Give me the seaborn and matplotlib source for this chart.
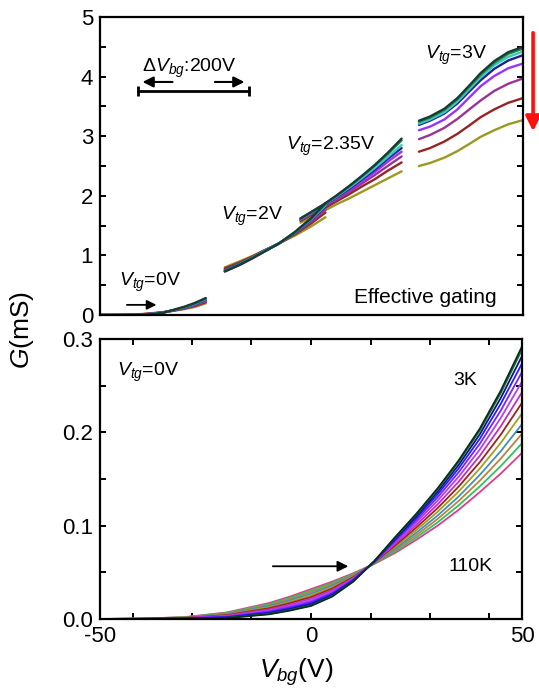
import matplotlib
matplotlib.use("Agg")
import matplotlib.pyplot as plt
import pandas as pd
import seaborn as sns

# ---------------- data ----------------
# top panel: curve names / colours (low T -> high T)
top_names = ["T1", "T2", "T3", "T4", "T5", "T6", "T7", "T8"]
top_colors = ["#1a3a3a", "#1f8f3f", "#33cccc", "#1f1f8f", "#9933ff", "#993399", "#992222", "#999922"]

# segment Vtg = 0 V
seg1_vbg = [-50, -47.5, -45, -42.5, -40, -37.5, -35, -32.5, -30, -27.5, -25]
seg1_g = [
    [0, 0, 0.000, 0.001, 0.005, 0.014, 0.040, 0.088, 0.140, 0.204, 0.285],
    [0, 0, 0.001, 0.002, 0.006, 0.016, 0.041, 0.086, 0.136, 0.197, 0.275],
    [0, 0, 0.001, 0.002, 0.007, 0.018, 0.042, 0.084, 0.132, 0.190, 0.265],
    [0, 0, 0.001, 0.003, 0.008, 0.020, 0.043, 0.082, 0.127, 0.182, 0.255],
    [0, 0, 0.001, 0.003, 0.009, 0.022, 0.044, 0.080, 0.122, 0.174, 0.245],
    [0, 0, 0.001, 0.004, 0.011, 0.025, 0.045, 0.078, 0.116, 0.165, 0.232],
    [0, 0, 0.002, 0.005, 0.013, 0.028, 0.047, 0.075, 0.109, 0.153, 0.215],
    [0, 0.001, 0.002, 0.007, 0.017, 0.032, 0.049, 0.071, 0.100, 0.136, 0.195],
]
# segment Vtg = 2 V
seg2_vbg = [-20.5, -17, -14, -11, -7.7, -4, 0, 3.3]
seg2_g = [
    [0.73, 0.84, 0.95, 1.07, 1.20, 1.39, 1.63, 1.88],
    [0.74, 0.85, 0.96, 1.07, 1.20, 1.38, 1.62, 1.86],
    [0.74, 0.85, 0.96, 1.08, 1.20, 1.38, 1.61, 1.84],
    [0.75, 0.86, 0.96, 1.08, 1.20, 1.37, 1.60, 1.82],
    [0.73, 0.84, 0.95, 1.07, 1.20, 1.37, 1.59, 1.80],
    [0.76, 0.87, 0.97, 1.08, 1.20, 1.36, 1.57, 1.77],
    [0.78, 0.88, 0.98, 1.09, 1.20, 1.35, 1.54, 1.72],
    [0.80, 0.90, 0.99, 1.09, 1.20, 1.33, 1.49, 1.64],
]
# segment Vtg = 2.35 V
seg3_vbg = [-2.6, 0, 3, 6, 9, 12, 15, 18, 21.3]
seg3_g = [
    [1.62, 1.73, 1.86, 2.01, 2.17, 2.34, 2.52, 2.72, 2.96],
    [1.62, 1.73, 1.86, 2.00, 2.16, 2.33, 2.51, 2.70, 2.93],
    [1.61, 1.72, 1.85, 1.99, 2.14, 2.30, 2.47, 2.65, 2.85],
    [1.61, 1.72, 1.84, 1.98, 2.12, 2.28, 2.44, 2.62, 2.80],
    [1.60, 1.71, 1.83, 1.96, 2.10, 2.25, 2.40, 2.57, 2.74],
    [1.60, 1.70, 1.82, 1.94, 2.07, 2.21, 2.35, 2.50, 2.66],
    [1.58, 1.68, 1.79, 1.91, 2.03, 2.16, 2.28, 2.42, 2.56],
    [1.55, 1.64, 1.75, 1.86, 1.96, 2.07, 2.18, 2.29, 2.41],
]
# segment Vtg = 3 V
seg4_vbg = [25.4, 28, 31.4, 34.5, 37.3, 40, 43.2, 46.5, 50]
seg4_g = [
    [3.26, 3.33, 3.46, 3.64, 3.85, 4.06, 4.26, 4.41, 4.50],
    [3.24, 3.31, 3.44, 3.62, 3.83, 4.03, 4.23, 4.38, 4.47],
    [3.21, 3.28, 3.40, 3.58, 3.79, 3.99, 4.19, 4.33, 4.42],
    [3.19, 3.26, 3.38, 3.55, 3.75, 3.94, 4.13, 4.27, 4.36],
    [3.10, 3.16, 3.28, 3.45, 3.65, 3.84, 4.01, 4.14, 4.22],
    [2.95, 3.02, 3.14, 3.29, 3.45, 3.60, 3.76, 3.88, 3.97],
    [2.74, 2.80, 2.91, 3.04, 3.18, 3.32, 3.45, 3.56, 3.64],
    [2.50, 2.55, 2.64, 2.75, 2.87, 2.99, 3.10, 3.20, 3.27],
]

# bottom panel: Vtg = 0 V, temperatures 3 K ... 110 K
bot_names = ["3K", "T2", "T3", "T4", "T5", "T6", "T7", "T8", "T9", "T10", "T11", "T12", "110K"]
bot_colors = ["#0a2a2a", "#1a7a2a", "#101080", "#2020ff", "#8020ff", "#b040f0", "#c030c0",
              "#a02020", "#a0a020", "#4090c0", "#c08040", "#30c060", "#e03c8c"]
bot_vbg = [-50, -40, -30, -20, -10, -5, 0, 5, 10, 15, 20, 25, 30, 35, 40, 45, 50]
bot_g = [
    [0, 0, .0003, .0010, .0050, .0090, .0140, .0240, .0400, .0620, .0880, .1130, .1400, .1700, .2040, .2450, .2920],
    [0, 0, .0004, .0012, .0054, .0095, .0145, .0245, .0403, .0619, .0875, .1122, .1388, .1684, .2020, .2423, .2886],
    [0, .0001, .0005, .0015, .0061, .0104, .0156, .0254, .0408, .0617, .0865, .1105, .1364, .1652, .1979, .2370, .2817],
    [0, .0001, .0006, .0020, .0069, .0114, .0169, .0266, .0414, .0615, .0853, .1085, .1336, .1615, .1931, .2308, .2738],
    [0, .0001, .0007, .0024, .0079, .0126, .0183, .0278, .0422, .0613, .0839, .1063, .1304, .1573, .1877, .2236, .2646],
    [0, .0002, .0009, .0030, .0090, .0140, .0199, .0293, .0430, .0610, .0824, .1038, .1268, .1525, .1816, .2156, .2544],
    [0, .0002, .0010, .0036, .0102, .0155, .0217, .0309, .0439, .0607, .0807, .1010, .1228, .1472, .1748, .2067, .2430],
    [0, .0003, .0012, .0042, .0114, .0170, .0235, .0325, .0448, .0604, .0790, .0982, .1188, .1419, .1680, .1978, .2316],
    [0, .0003, .0014, .0048, .0126, .0185, .0253, .0341, .0457, .0601, .0773, .0954, .1148, .1366, .1612, .1889, .2202],
    [0, .0004, .0015, .0054, .0138, .0200, .0271, .0357, .0466, .0598, .0756, .0926, .1108, .1313, .1544, .1800, .2088],
    [0, .0004, .0017, .0059, .0148, .0213, .0288, .0371, .0474, .0595, .0741, .0900, .1072, .1265, .1482, .1720, .1985],
    [0, .0005, .0018, .0065, .0159, .0227, .0304, .0386, .0482, .0593, .0725, .0875, .1036, .1218, .1421, .1640, .1883],
    [0, .0005, .0020, .0070, .0170, .0240, .0320, .0400, .0490, .0590, .0710, .0850, .1000, .1170, .1360, .1560, .1780],
]

x_ticklabels = ["-50", "0", "50"]

# ---------------- style ----------------
sns.set_style("ticks")
plt.rcParams["font.family"] = ["Liberation Sans", "DejaVu Sans"]
plt.rcParams["mathtext.fontset"] = "custom"
plt.rcParams["mathtext.rm"] = "Liberation Sans"
plt.rcParams["mathtext.it"] = "Liberation Sans:italic"
plt.rcParams["mathtext.bf"] = "Liberation Sans:bold"
for key in ["text.color", "axes.labelcolor", "xtick.color", "ytick.color", "axes.edgecolor"]:
    plt.rcParams[key] = "black"

fig = plt.figure(figsize=(5.39, 6.98), dpi=100)
ax1 = fig.add_axes([0.18553, 0.54871, 0.78479, 0.42693])
ax2 = fig.add_axes([0.18553, 0.11318, 0.78293, 0.40115])

# ---------------- top panel ----------------
rows = []
for seg, xs, curves in [("s1", seg1_vbg, seg1_g), ("s2", seg2_vbg, seg2_g),
                        ("s3", seg3_vbg, seg3_g), ("s4", seg4_vbg, seg4_g)]:
    for name, ys in zip(top_names, curves):
        for x, y in zip(xs, ys):
            rows.append((seg, name, x, y))
top_df = pd.DataFrame(rows, columns=["seg", "curve", "Vbg", "G"])
sns.lineplot(data=top_df, x="Vbg", y="G", hue="curve", units="seg", estimator=None,
             sort=False, hue_order=top_names[::-1],
             palette=dict(zip(top_names, top_colors)), legend=False, lw=1.7, ax=ax1)

# ---------------- bottom panel ----------------
rows = []
for name, ys in zip(bot_names, bot_g):
    for x, y in zip(bot_vbg, ys):
        rows.append((name, x, y))
bot_df = pd.DataFrame(rows, columns=["curve", "Vbg", "G"])
sns.lineplot(data=bot_df, x="Vbg", y="G", hue="curve", estimator=None, sort=False,
             hue_order=bot_names[::-1], palette=dict(zip(bot_names, bot_colors)),
             legend=False, lw=1.3, ax=ax2)

# ---------------- axes styling ----------------
minor_x = [-42.2, -28.1, -14.1, 14.1, 28.1, 42.2]
for ax in (ax1, ax2):
    ax.set_xlim(-50, 50)
    ax.set_xlabel("")
    ax.set_ylabel("")
    for sp in ax.spines.values():
        sp.set_visible(True)
        sp.set_linewidth(1.6)
        sp.set_color("black")

ax1.set_ylim(0, 5)
ax1.set_yticks([0, 1, 2, 3, 4, 5])
ax1.set_yticks([0.5, 1.5, 2.5, 3.5, 4.5], minor=True)
ax1.set_xticks([])
ax1.tick_params(axis="y", which="both", direction="in", left=True, right=True,
                length=4.5, width=1.4, labelsize=16, pad=5, colors="black")

ax2.set_ylim(0, 0.3)
ax2.set_yticks([0.0, 0.1, 0.2, 0.3])
ax2.set_yticklabels(["0.0", "0.1", "0.2", "0.3"])
ax2.set_yticks([0.05, 0.15, 0.25], minor=True)
ax2.set_xticks([-50, 0, 50])
ax2.set_xticklabels(x_ticklabels)
ax2.set_xticks(minor_x, minor=True)
ax2.tick_params(axis="both", which="both", direction="in", left=True, right=True,
                top=True, bottom=True, length=4.5, width=1.4, labelsize=16, pad=5,
                colors="black")

# ---------------- annotations: top ----------------
fs = 14
ax1.text(-29, 4.13, r"$\Delta V_{bg}$:200V", fontsize=fs, ha="center", va="center")
ax1.plot([-41, -14.7], [3.76, 3.76], color="black", lw=2, marker="|", ms=7, mew=2)
ax1.annotate("", xy=(-40.6, 3.91), xytext=(-32.2, 3.91),
             arrowprops=dict(arrowstyle="-|>", color="black", lw=1.5, mutation_scale=16))
ax1.annotate("", xy=(-15.2, 3.91), xytext=(-23.5, 3.91),
             arrowprops=dict(arrowstyle="-|>", color="black", lw=1.5, mutation_scale=16))
ax1.text(-38.2, 0.55, r"$V_{tg}$=0V", fontsize=fs, ha="center", va="center")
ax1.annotate("", xy=(-36.0, 0.17), xytext=(-44.3, 0.17),
             arrowprops=dict(arrowstyle="-|>", color="black", lw=1.3, mutation_scale=14))
ax1.text(-14.0, 1.66, r"$V_{tg}$=2V", fontsize=fs, ha="center", va="center")
ax1.text(4.5, 2.83, r"$V_{tg}$=2.35V", fontsize=fs, ha="center", va="center")
ax1.text(34.2, 4.35, r"$V_{tg}$=3V", fontsize=fs, ha="center", va="center")
ax1.text(0.77, 0.06, "Effective gating", transform=ax1.transAxes, fontsize=15,
         ha="center", va="center")

# red arrow outside the right edge
ax1.annotate("", xy=(0.989, 0.808), xytext=(0.989, 0.957), xycoords="figure fraction",
             textcoords="figure fraction",
             arrowprops=dict(arrowstyle="-|>", color="#ff1010", lw=2.6, mutation_scale=22),
             annotation_clip=False)

# ---------------- annotations: bottom ----------------
ax2.text(-38.6, 0.264, r"$V_{tg}$=0V", fontsize=fs, ha="center", va="center")
ax2.text(36.5, 0.256, "3K", fontsize=fs, ha="center", va="center")
ax2.text(37.9, 0.056, "110K", fontsize=fs, ha="center", va="center")
ax2.annotate("", xy=(9.5, 0.0565), xytext=(-9.7, 0.0565),
             arrowprops=dict(arrowstyle="-|>", color="black", lw=1.3, mutation_scale=16))

# ---------------- axis titles ----------------
fig.text(0.040, 0.527, r"$G$(mS)", rotation=90, fontsize=19, ha="center", va="center")
fig.text(0.549, 0.029, r"$V_{bg}$(V)", fontsize=19, ha="center", va="baseline")

fig.savefig("out.png", dpi=100)
